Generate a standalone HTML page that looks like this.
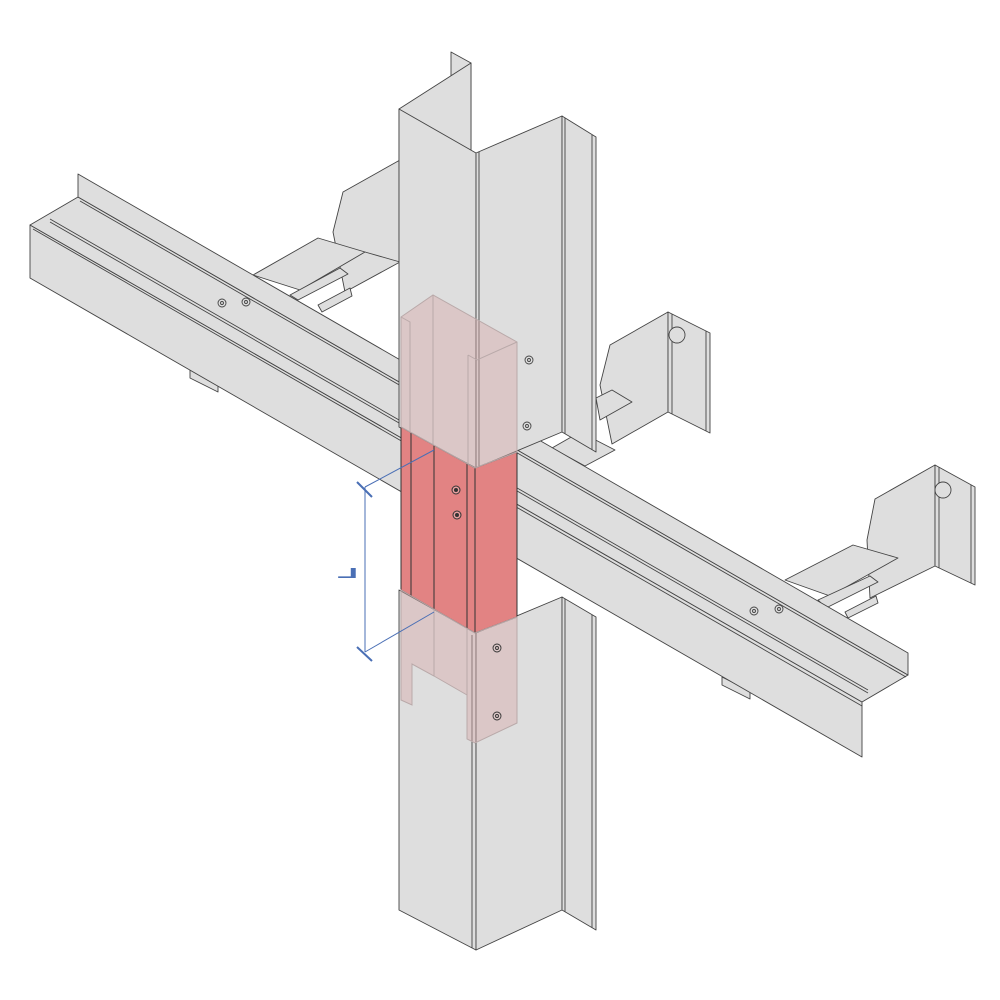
<!DOCTYPE html>
<html><head><meta charset="utf-8"><style>html,body{margin:0;padding:0;background:#fff}svg{display:block}</style></head>
<body>
<svg width="1000" height="1000" viewBox="0 0 1000 1000" xmlns="http://www.w3.org/2000/svg">
<g stroke="#444" stroke-width="0.9" fill="#dedede" stroke-linejoin="round">
<polygon points="333,232 343,192 400,160 400,262 345,292"/>
<polygon points="253,275 318,238 365,252 300,290"/>
<polygon points="290,295 340,268 348,274 298,300"/>
<polygon points="318,305 350,288 352,296 322,312"/>
<line x1="365" y1="252" x2="400" y2="262"/>
<polygon points="600,385 610,345 668,312 668,412 612,444"/>
<polygon points="668,312 710,333 710,433 668,412"/>
<line x1="672" y1="314" x2="672" y2="414"/>
<line x1="706" y1="331" x2="706" y2="431"/>
<polygon points="596,398 612,390 632,402 600,420"/>
<polygon points="552,448 580,432 615,450 585,466"/>
<circle cx="677" cy="335" r="8"/>
<polygon points="867,540 875,499 935,465 935,566 870,598"/>
<polygon points="935,465 975,487 975,585 935,566"/>
<line x1="939" y1="467" x2="939" y2="568"/>
<line x1="971" y1="485" x2="971" y2="583"/>
<polygon points="785,580 853,545 898,558 830,596"/>
<polygon points="818,600 870,576 878,582 826,608"/>
<polygon points="845,612 876,596 878,603 848,618"/>
<circle cx="943" cy="490" r="8"/>
<polygon points="190,370 218,384 218,392 190,378"/>
<polygon points="722,677 750,691 750,699 722,685"/>
<polygon points="30,225 862,702 862,757 30,278"/>
<polygon points="30,225 78,197 908,675 862,702"/>
<polygon points="78,197 78,174 908,653 908,675"/>
<line x1="33" y1="229" x2="862" y2="706"/>
<line x1="80" y1="201" x2="906" y2="677"/>
<line x1="50" y1="219" x2="868" y2="690"/>
<line x1="50" y1="222" x2="868" y2="693"/>
<circle cx="222" cy="303" r="4"/><circle cx="222" cy="303" r="1.5"/>
<circle cx="246" cy="302" r="4"/><circle cx="246" cy="302" r="1.5"/>
<circle cx="754" cy="611" r="4"/><circle cx="754" cy="611" r="1.5"/>
<circle cx="779" cy="609" r="4"/><circle cx="779" cy="609" r="1.5"/>
<polygon points="451,52 471,63 471,160 451,150"/>
<polygon points="399,109 471,63 471,200 399,240"/>
<polygon points="399,109 476,153 476,468 399,427"/>
<polygon points="476,153 562,116 562,432 476,468"/>
<polygon points="562,116 596,137 596,452 562,432"/>
<line x1="479" y1="152" x2="479" y2="466"/>
<line x1="565" y1="118" x2="565" y2="434"/>
<line x1="592" y1="135" x2="592" y2="450"/>
<circle cx="529" cy="360" r="4"/><circle cx="529" cy="360" r="1.5"/>
<circle cx="527" cy="426" r="4"/><circle cx="527" cy="426" r="1.5"/>
<polygon points="399,590 476,633 476,950 399,910"/>
<polygon points="476,633 562,597 562,910 476,950"/>
<polygon points="562,597 596,617 596,930 562,910"/>
<line x1="472" y1="635" x2="472" y2="948"/>
<line x1="565" y1="599" x2="565" y2="912"/>
<line x1="592" y1="615" x2="592" y2="928"/>
</g>
<g stroke="#333" stroke-width="1" fill="#e28383">
<polygon points="401,427 475,468 517,452 517,617 475,633 401,590"/>
<line x1="411" y1="433" x2="411" y2="596"/>
<line x1="434" y1="445" x2="434" y2="609"/>
<line x1="467" y1="464" x2="467" y2="628"/>
<line x1="475" y1="468" x2="475" y2="633"/>
<circle cx="456" cy="490" r="4" fill="#e8a0a0"/><circle cx="456" cy="490" r="1.5" fill="#333"/>
<circle cx="457" cy="515" r="4" fill="#e8a0a0"/><circle cx="457" cy="515" r="1.5" fill="#333"/>
</g>
<g stroke="#b9a9a9" stroke-width="1" fill="rgba(215,170,170,0.45)">
<polygon points="401,317 433,295 517,342 517,452 475,468 401,427"/>
<line x1="433" y1="295" x2="433" y2="445"/>
<polyline points="401,317 410,322 410,432" fill="none"/>
<polyline points="468,355 477,360 517,342" fill="none"/>
<line x1="468" y1="355" x2="468" y2="464"/>
<polygon points="401,590 475,633 517,617 517,723 475,743 467,739 467,695 434,676 412,664 412,705 401,700"/>
<line x1="434" y1="609" x2="434" y2="676"/>
<line x1="467" y1="628" x2="467" y2="739"/>
</g>
<g stroke="#333" stroke-width="0.9" fill="none">
<circle cx="497" cy="648" r="4"/><circle cx="497" cy="648" r="1.5"/>
<circle cx="497" cy="716" r="4"/><circle cx="497" cy="716" r="1.5"/>
</g>
<g stroke="#4a6fb5" stroke-width="1" fill="none">
<line x1="365" y1="487" x2="365" y2="652"/>
<line x1="365" y1="487" x2="434" y2="450"/>
<line x1="365" y1="652" x2="434" y2="612"/>
<line x1="357" y1="482" x2="372" y2="497" stroke-width="2"/>
<line x1="357" y1="647" x2="372" y2="661" stroke-width="2"/>
</g>
<text transform="translate(358,578) scale(-1.9,0.8)" font-family="Liberation Sans, sans-serif" font-weight="bold" font-size="18" fill="#4a6fb5">L</text>
</svg>
</body></html>
